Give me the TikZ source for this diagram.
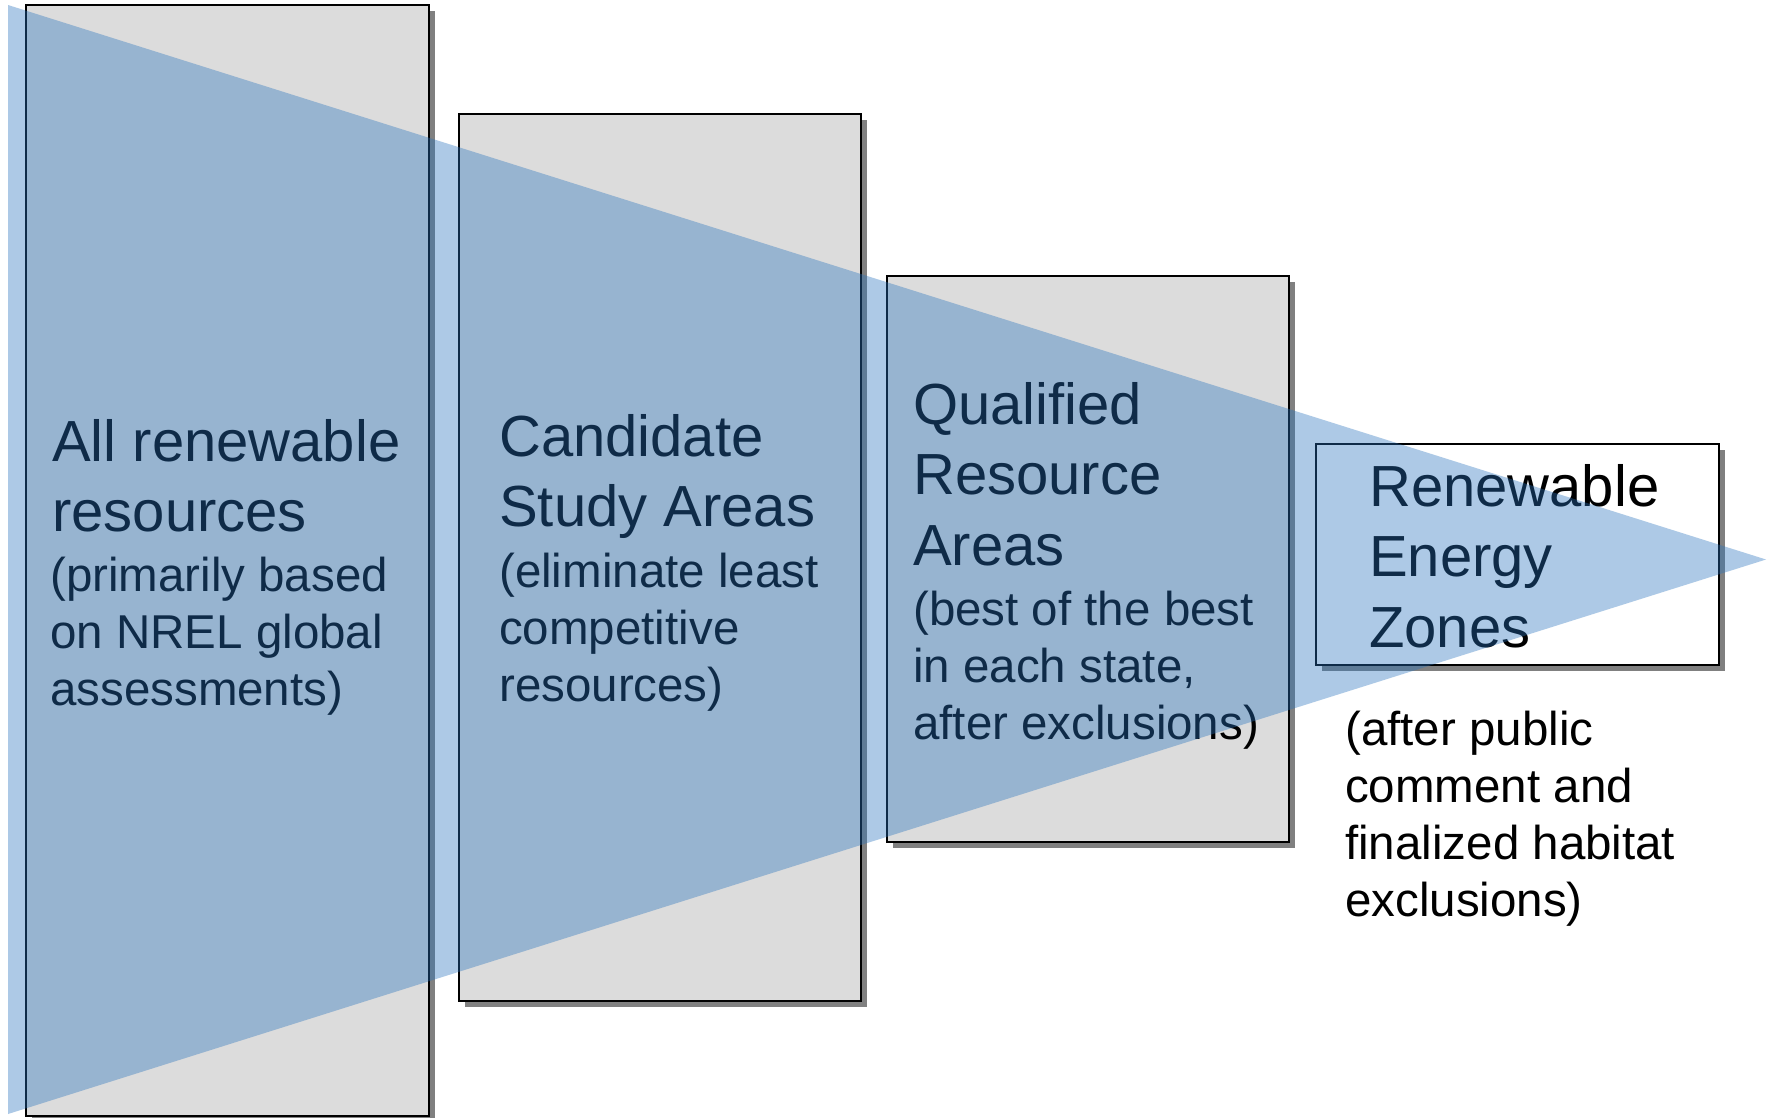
\documentclass[tikz,border=0pt]{standalone}
\usepackage{fontspec}
\setmainfont{Liberation Sans}
\usetikzlibrary{shadows}
\definecolor{panelgray}{RGB}{220,220,220}
\definecolor{shadowgray}{RGB}{128,128,128}
\definecolor{funnelblue}{RGB}{40,115,190}
\tikzset{
  panel/.style={draw=black, line width=2pt, fill=panelgray, inner sep=0pt, outer sep=0pt,
    anchor=north west,
    drop shadow={shadow xshift=6pt, shadow yshift=-6pt, fill=shadowgray, opacity=1}},
  whitepanel/.style={panel, fill=white, line width=1.6pt},
  titletext/.style={anchor=base west, inner sep=0pt, font=\fontsize{58}{70.5}\selectfont},
  subtext/.style={anchor=base west, inner sep=0pt, font=\fontsize{47.5}{57}\selectfont},
  funnel/.style={fill=funnelblue, fill opacity=0.38, draw=none}
}
\begin{document}
\begin{tikzpicture}[x=1pt,y=-1pt]
\useasboundingbox (0,0) rectangle (1769,1117);
\clip (0,0) rectangle (1769,1117);
\fill[white] (0,0) rectangle (1769,1117);
% panels
\node[panel, minimum width=403pt, minimum height=1111pt] (b1) at (26,5) {};
\node[panel, minimum width=402pt, minimum height=887pt] (b2) at (459,114) {};
\node[panel, minimum width=402pt, minimum height=566pt] (b3) at (887,276) {};
\node[whitepanel, minimum width=403pt, minimum height=221pt] (b4) at (1316,444) {};
% texts
\node[titletext] (t1) at (52,461) {\vtop{\hbox{All renewable}\hbox{resources}}};
\node[subtext] (s1) at (50,591) {\vtop{\hbox{(primarily based}\hbox{on NREL global}\hbox{assessments)}}};
\node[titletext] (t2) at (499,456) {\vtop{\hbox{Candidate}\hbox{Study Areas}}};
\node[subtext] (s2) at (499,587) {\vtop{\hbox{(eliminate least}\hbox{competitive}\hbox{resources)}}};
\node[titletext] (t3) at (913,424) {\vtop{\hbox{Qualified}\hbox{Resource}\hbox{Areas}}};
\node[subtext] (s3) at (913,625) {\vtop{\hbox{(best of the best}\hbox{in each state,}\hbox{after exclusions)}}};
\node[titletext] (t4) at (1369,506) {\vtop{\hbox{Renewable}\hbox{Energy}\hbox{Zones}}};
\node[subtext] (s4) at (1345,745) {\vtop{\hbox{(after public}\hbox{comment and}\hbox{finalized habitat}\hbox{exclusions)}}};
% funnel on top
\coordinate (ftop) at (8,5);
\coordinate (fbot) at (8,1114);
\coordinate (fapex) at (1766,559.5);
\fill[funnel] (ftop) -- (fapex) -- (fbot) -- cycle;
\end{tikzpicture}
\end{document}
